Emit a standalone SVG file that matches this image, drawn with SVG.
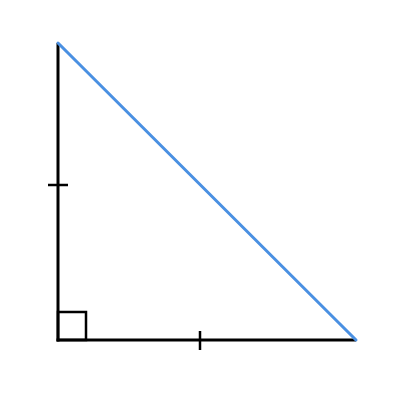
<svg xmlns="http://www.w3.org/2000/svg" width="400" height="400" viewBox="0 0 400 400">
<style>
.side{stroke:#000;stroke-width:3;fill:none;stroke-linecap:butt}
.tick{stroke:#000;stroke-width:2.5;fill:none}
.hyp{stroke:#4a90e2;stroke-width:3;fill:none;stroke-linecap:round}
.sq{stroke:#000;stroke-width:2.5;fill:none}
</style>
<rect width="400" height="400" fill="#fff"/>
<g id="triangle">
<rect class="sq" x="58" y="312" width="28" height="28"/>
<line class="side" x1="58" y1="43" x2="58" y2="341.5"/>
<line class="side" x1="56.5" y1="340" x2="356" y2="340"/>
<line class="hyp" x1="58" y1="43" x2="356" y2="340"/>
<line class="tick" x1="48" y1="185" x2="68" y2="185"/>
<line class="tick" x1="200" y1="331" x2="200" y2="350"/>
</g>
</svg>
